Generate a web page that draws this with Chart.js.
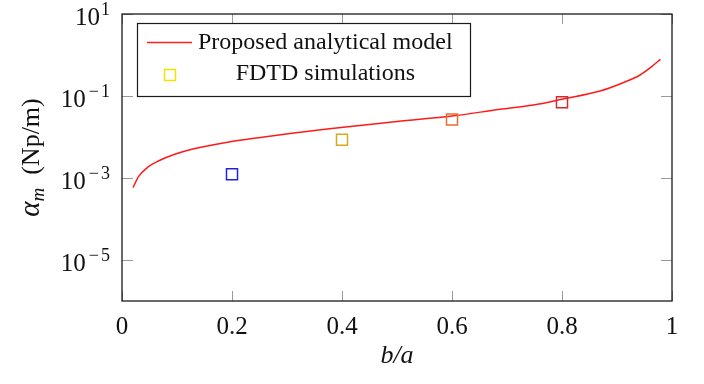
<!DOCTYPE html>
<html lang="en">
<head>
    <title>Attenuation vs b/a</title>
    <script src="https://cdn.jsdelivr.net/npm/chart.js"></script>
    <style>
        body {
            margin: 0;
            background-color: white;
        }

        #wrap {
            width: 704px;
            height: 384px;
        }
    </style>
</head>
<body>

    <div id="wrap">
        <canvas id="chart" width="704" height="384"></canvas>
    </div>

    <script>
        // analytical model curve
        const modelX = [0.02, 0.03, 0.048, 0.066, 0.096, 0.127, 0.187, 0.248, 0.309, 0.369, 0.424,
            0.5, 0.6, 0.687, 0.748, 0.8, 0.869, 0.911, 0.942, 0.963, 0.979];
        const modelY = [5.8e-4, 1.08e-3, 1.89e-3, 2.6e-3, 3.78e-3, 5.0e-3, 7.26e-3, 9.6e-3, 0.0123, 0.0154, 0.0185,
            0.024, 0.0324, 0.0473, 0.0603, 0.0832, 0.132, 0.211, 0.325, 0.519, 0.785];

        // FDTD points
        const fdtdX = [0.2, 0.4, 0.6, 0.8];
        const fdtdY = [1.23e-3, 8.6e-3, 0.0267, 0.070];
        const fdtdColors = ['#2323d8', '#d6a823', '#e26c35', '#d42a2a'];

        const xTicks = [0, 0.2, 0.4, 0.6, 0.8, 1];
        const xTickLabels = ['0', '0.2', '0.4', '0.6', '0.8', '1'];
        const yTicks = [1e1, 1e-1, 1e-3, 1e-5];
        const yTickExps = ['1', '\u22121', '\u22123', '\u22125'];

        const legendLabels = ['Proposed analytical model', 'FDTD simulations'];

        const SERIF = '"Liberation Serif", "Times New Roman", serif';

        const frame = {
            id: 'frame',
            afterDraw(chart) {
                const ctx = chart.ctx;
                const a = chart.chartArea;
                const xs = chart.scales.x, ys = chart.scales.y;
                ctx.save();

                // inner tick marks on all four sides
                ctx.strokeStyle = '#9a9a9a';
                ctx.lineWidth = 1;
                ctx.beginPath();
                xTicks.forEach(v => {
                    const px = Math.round(xs.getPixelForValue(v)) + 0.5;
                    ctx.moveTo(px, a.bottom); ctx.lineTo(px, a.bottom - 10);
                    ctx.moveTo(px, a.top); ctx.lineTo(px, a.top + 10);
                });
                yTicks.forEach(v => {
                    const py = Math.round(ys.getPixelForValue(v)) + 0.5;
                    ctx.moveTo(a.left, py); ctx.lineTo(a.left + 11, py);
                    ctx.moveTo(a.right, py); ctx.lineTo(a.right - 11, py);
                });
                ctx.stroke();

                // box
                ctx.strokeStyle = '#1a1a1a';
                ctx.lineWidth = 1.3;
                ctx.strokeRect(a.left, a.top, a.right - a.left, a.bottom - a.top);

                // x tick labels
                ctx.fillStyle = '#111';
                ctx.font = '25px ' + SERIF;
                ctx.textAlign = 'center';
                ctx.textBaseline = 'middle';
                xTicks.forEach((v, i) => {
                    ctx.fillText(xTickLabels[i], xs.getPixelForValue(v), a.bottom + 26);
                });

                // y tick labels 10^n, exponent drawn in two pieces so the minus gets some room
                yTicks.forEach((v, i) => {
                    const py = ys.getPixelForValue(v);
                    let x = a.left - 12;
                    ctx.textBaseline = 'alphabetic';
                    ctx.textAlign = 'right';
                    ctx.font = '18px ' + SERIF;
                    const exp = yTickExps[i];
                    const digit = exp.slice(-1);
                    ctx.fillText(digit, x, py + 1);
                    x -= ctx.measureText(digit).width;
                    if (exp.length > 1) {
                        x -= 2;
                        ctx.fillText(exp[0], x, py + 1);
                        x -= ctx.measureText(exp[0]).width + 2;
                    }
                    ctx.font = '25px ' + SERIF;
                    ctx.fillText('10', x - 1, py + 11);
                });

                // x axis title
                ctx.font = 'italic 26px ' + SERIF;
                ctx.textAlign = 'center';
                ctx.textBaseline = 'middle';
                ctx.fillText('b/a', (a.left + a.right) / 2, a.bottom + 55);

                // y axis title, rotated
                ctx.save();
                ctx.translate(30, (a.top + a.bottom) / 2);
                ctx.rotate(-Math.PI / 2);
                ctx.textAlign = 'left';
                ctx.textBaseline = 'alphabetic';
                const parts = [
                    { t: '\u03b1', f: 'italic 29px ' + SERIF, dy: 0 },
                    { t: 'm', f: 'italic 19px ' + SERIF, dy: 5 },
                    { t: '  (Np/m)', f: '26px ' + SERIF, dy: 0 }
                ];
                let total = 0;
                parts.forEach(p => { ctx.font = p.f; p.w = ctx.measureText(p.t).width; total += p.w; });
                let cx = -total / 2;
                parts.forEach(p => {
                    ctx.font = p.f;
                    ctx.fillText(p.t, cx, 9 + p.dy);
                    cx += p.w;
                });
                ctx.restore();

                // legend
                const lx = 137.5, ly = 23.5, lw = 333, lh = 73;
                ctx.fillStyle = 'white';
                ctx.fillRect(lx, ly, lw, lh);
                ctx.strokeStyle = '#1a1a1a';
                ctx.lineWidth = 1.2;
                ctx.strokeRect(lx, ly, lw, lh);

                ctx.strokeStyle = '#ff2020';
                ctx.lineWidth = 1.5;
                ctx.beginPath();
                ctx.moveTo(147, 42.5); ctx.lineTo(192, 42.5);
                ctx.stroke();

                ctx.strokeStyle = '#f2e200';
                ctx.lineWidth = 1.5;
                ctx.strokeRect(164.5, 69.5, 11, 11);

                ctx.fillStyle = '#111';
                ctx.font = '24px ' + SERIF;
                ctx.textBaseline = 'middle';
                ctx.textAlign = 'left';
                ctx.fillText(legendLabels[0], 198, 43);
                const w0 = ctx.measureText(legendLabels[0]).width;
                ctx.textAlign = 'center';
                ctx.fillText(legendLabels[1], 198 + w0 / 2, 74);

                ctx.restore();
            }
        };

        new Chart(document.getElementById('chart').getContext('2d'), {
            type: 'scatter',
            data: {
                datasets: [{
                    label: legendLabels[0],
                    data: modelX.map((x, i) => ({ x: x, y: modelY[i] })),
                    showLine: true,
                    borderColor: '#ff1a1a',
                    borderWidth: 1.5,
                    pointRadius: 0,
                    cubicInterpolationMode: 'monotone',
                    order: 2
                }, {
                    label: legendLabels[1],
                    data: fdtdX.map((x, i) => ({ x: x, y: fdtdY[i] })),
                    showLine: false,
                    pointStyle: 'rect',
                    pointRadius: 7.8,
                    pointBorderWidth: 1.5,
                    pointBorderColor: fdtdColors,
                    pointBackgroundColor: 'rgba(0,0,0,0)',
                    order: 1
                }]
            },
            options: {
                responsive: false,
                animation: false,
                events: [],
                layout: {
                    padding: { left: 122, right: 32, top: 14, bottom: 83 }
                },
                scales: {
                    x: { type: 'linear', min: 0, max: 1, display: false },
                    y: { type: 'logarithmic', min: 1e-6, max: 10, display: false }
                },
                plugins: {
                    legend: { display: false },
                    tooltip: { enabled: false }
                }
            },
            plugins: [frame]
        });
    </script>

</body>
</html>
